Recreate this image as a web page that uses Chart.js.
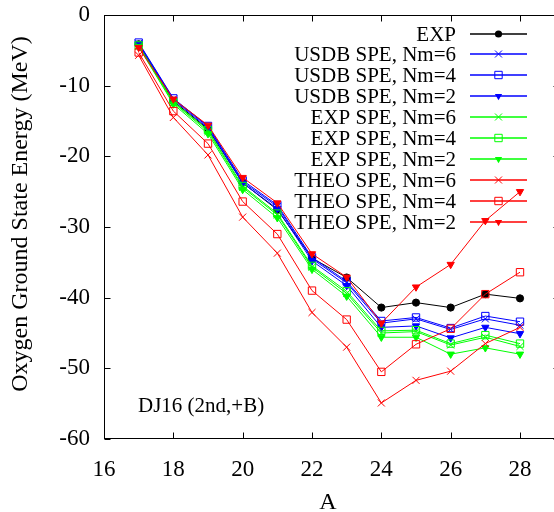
<!DOCTYPE html>
<html>
<head>
<meta charset="utf-8">
<script src="https://cdn.jsdelivr.net/npm/chart.js@4.4.0/dist/chart.umd.min.js"></script>
<style>
  html, body { margin: 0; padding: 0; background: #fff; overflow: hidden; }
  canvas { display: block; }
</style>
</head>
<body>
<canvas id="myChart" width="566" height="512"></canvas>
<script>
// mass number A of the oxygen isotopes
var massNumbers = [17, 18, 19, 20, 21, 22, 23, 24, 25, 26, 27, 28];

// ground state energies (MeV)
var expEnergy = [-4.14, -12.19, -16.14, -23.75, -27.56, -34.41, -37.15, -41.4, -40.7, -41.4, -39.5, -40.1];
var usdbNm6 = [-4.0, -11.9, -15.8, -23.6, -27.1, -34.5, -37.9, -43.6, -43.0, -44.5, -43.0, -43.9];
var usdbNm4 = [-3.9, -11.8, -15.7, -23.4, -26.9, -34.3, -37.7, -43.3, -42.8, -44.3, -42.6, -43.4];
var usdbNm2 = [-4.1, -12.0, -16.0, -23.8, -27.4, -34.8, -38.3, -44.2, -44.0, -45.7, -44.2, -45.1];
var expNm6 = [-4.4, -12.4, -16.5, -24.4, -28.3, -35.7, -39.4, -45.0, -44.8, -46.7, -45.6, -46.9];
var expNm4 = [-4.3, -12.3, -16.3, -24.2, -28.1, -35.5, -39.1, -44.7, -44.6, -46.5, -45.3, -46.5];
var expNm2 = [-4.5, -12.6, -16.8, -24.7, -28.7, -36.0, -39.8, -45.6, -45.6, -48.0, -47.1, -48.0];
var theoNm6 = [-5.7, -14.5, -19.8, -28.6, -33.7, -42.1, -47.0, -54.9, -51.7, -50.4, -46.5, -44.2];
var theoNm4 = [-5.3, -13.6, -18.2, -26.4, -31.0, -39.0, -43.1, -50.5, -46.6, -44.4, -39.5, -36.4];
var theoNm2 = [-4.6, -11.9, -15.6, -23.0, -26.6, -33.8, -37.1, -43.6, -38.5, -35.3, -29.1, -25.0];

var xTicks = [16, 18, 20, 22, 24, 26, 28];
var yTicks = [0, -10, -20, -30, -40, -50, -60];

var serif = "'Liberation Serif', 'DejaVu Serif', serif";

function pairs(values) {
  return massNumbers.map(function (a, i) { return { x: a, y: values[i] }; });
}

// one line of the plot; marker is 'circle' | 'x' | 'box' | 'tri'
function series(label, values, color, marker) {
  var ds = {
    label: label,
    data: pairs(values),
    showLine: true,
    borderColor: color,
    borderWidth: 1,
    pointBorderColor: color,
    pointBorderWidth: 1,
    pointBackgroundColor: color,
    pointRadius: 5,
    pointRotation: 0,
    marker: marker
  };
  if (marker === 'circle') { ds.pointStyle = 'circle'; ds.pointRadius = 3.6; }
  if (marker === 'x') { ds.pointStyle = 'crossRot'; ds.pointRadius = 5; }
  if (marker === 'box') { ds.pointStyle = 'rect'; ds.pointRadius = 5.2; ds.pointBackgroundColor = 'rgba(0,0,0,0)'; }
  if (marker === 'tri') { ds.pointStyle = 'triangle'; ds.pointRadius = 4.2; ds.pointRotation = 180; }
  return ds;
}

var datasets = [
  series('EXP', expEnergy, '#000000', 'circle'),
  series('USDB SPE, Nm=6', usdbNm6, '#0000ff', 'x'),
  series('USDB SPE, Nm=4', usdbNm4, '#0000ff', 'box'),
  series('USDB SPE, Nm=2', usdbNm2, '#0000ff', 'tri'),
  series('EXP SPE, Nm=6', expNm6, '#00ff00', 'x'),
  series('EXP SPE, Nm=4', expNm4, '#00ff00', 'box'),
  series('EXP SPE, Nm=2', expNm2, '#00ff00', 'tri'),
  series('THEO SPE, Nm=6', theoNm6, '#ff0000', 'x'),
  series('THEO SPE, Nm=4', theoNm4, '#ff0000', 'box'),
  series('THEO SPE, Nm=2', theoNm2, '#ff0000', 'tri')
];
// later curves sit on top
datasets.forEach(function (ds, i) { ds.order = datasets.length - i; });

function drawMarker(ctx, kind, x, y, color) {
  ctx.save();
  ctx.strokeStyle = color;
  ctx.fillStyle = color;
  ctx.lineWidth = 1;
  ctx.beginPath();
  if (kind === 'circle') {
    ctx.arc(x, y, 3.6, 0, Math.PI * 2);
    ctx.fill();
  } else if (kind === 'x') {
    ctx.moveTo(x - 3.5, y - 3.5); ctx.lineTo(x + 3.5, y + 3.5);
    ctx.moveTo(x - 3.5, y + 3.5); ctx.lineTo(x + 3.5, y - 3.5);
    ctx.stroke();
  } else if (kind === 'box') {
    ctx.rect(x - 3.7, y - 3.7, 7.4, 7.4);
    ctx.stroke();
  } else if (kind === 'tri') {
    ctx.moveTo(x, y + 4.2);
    ctx.lineTo(x - 3.64, y - 2.1);
    ctx.lineTo(x + 3.64, y - 2.1);
    ctx.closePath();
    ctx.fill();
  }
  ctx.restore();
}

// frame with inward ticks, key, titles and the label in the corner
var gnuplotLook = {
  id: 'gnuplotLook',
  afterDraw: function (chart) {
    var ctx = chart.ctx;
    var a = chart.chartArea;
    var xs = chart.scales.x;
    var ys = chart.scales.y;
    var L = Math.round(a.left) + 0.5, R = Math.round(a.right) - 0.5;
    var T = Math.round(a.top) + 0.5, B = Math.round(a.bottom) - 0.5;

    ctx.save();
    ctx.strokeStyle = '#000';
    ctx.lineWidth = 1;
    ctx.strokeRect(L, T, R - L, B - T);
    ctx.beginPath();
    xTicks.forEach(function (v) {
      var px = Math.round(xs.getPixelForValue(v)) + 0.5;
      ctx.moveTo(px, B); ctx.lineTo(px, B - 6);
      ctx.moveTo(px, T); ctx.lineTo(px, T + 6);
    });
    yTicks.forEach(function (v) {
      var py = Math.round(ys.getPixelForValue(v)) + 0.5;
      ctx.moveTo(L, py); ctx.lineTo(L + 6, py);
      ctx.moveTo(R, py); ctx.lineTo(R - 6, py);
    });
    ctx.stroke();

    // key
    ctx.font = '21px ' + serif;
    ctx.textAlign = 'right';
    ctx.textBaseline = 'middle';
    chart.data.datasets.forEach(function (ds, i) {
      var y = Math.round(33.5 + i * 20.95);
      ctx.fillStyle = '#000';
      ctx.fillText(ds.label, 456, y + 1);
      ctx.strokeStyle = ds.borderColor;
      ctx.lineWidth = 1.5;
      ctx.beginPath();
      ctx.moveTo(470, y);
      ctx.lineTo(527, y);
      ctx.stroke();
      drawMarker(ctx, ds.marker, 498.5, y, ds.borderColor);
    });

    // axis titles
    ctx.fillStyle = '#000';
    ctx.font = '24px ' + serif;
    ctx.textAlign = 'center';
    ctx.textBaseline = 'middle';
    ctx.fillText('A', 328, 503);
    ctx.save();
    ctx.translate(21, 214);
    ctx.rotate(-Math.PI / 2);
    ctx.fillText('Oxygen Ground State Energy (MeV)', 0, 0);
    ctx.restore();

    ctx.font = '21px ' + serif;
    ctx.textAlign = 'left';
    ctx.textBaseline = 'alphabetic';
    ctx.fillText('DJ16 (2nd,+B)', 138, 412);
    ctx.restore();
  }
};

var ctx = document.getElementById('myChart').getContext('2d');
var chart = new Chart(ctx, {
  type: 'scatter',
  data: { datasets: datasets },
  options: {
    responsive: false,
    animation: false,
    events: [],
    layout: { padding: { top: 15, left: 0, right: 0, bottom: 0 } },
    plugins: {
      legend: { display: false },
      tooltip: { enabled: false }
    },
    scales: {
      x: {
        type: 'linear',
        min: 16,
        max: 29.04,
        afterFit: function (s) {
          s.height = 73;
          s.paddingLeft = 0; s.paddingRight = 0;
        },
        afterBuildTicks: function (s) { s.ticks = xTicks.map(function (v) { return { value: v }; }); },
        grid: { display: false, drawTicks: false },
        border: { display: false },
        ticks: {
          color: '#000',
          padding: 17,
          maxRotation: 0,
          includeBounds: false,
          font: { family: serif, size: 23 }
        }
      },
      y: {
        type: 'linear',
        min: -60,
        max: 0,
        afterFit: function (s) {
          s.width = 104;
          s.paddingTop = 0; s.paddingBottom = 0;
        },
        afterBuildTicks: function (s) { s.ticks = yTicks.map(function (v) { return { value: v }; }); },
        grid: { display: false, drawTicks: false },
        border: { display: false },
        ticks: {
          color: '#000',
          padding: 14,
          font: { family: serif, size: 23 }
        }
      }
    }
  },
  plugins: [gnuplotLook]
});

// keep 2 units of A at the same width whatever room the layout left;
// the right edge of the frame then falls past the visible page
var area = chart.chartArea;
var unit = (520 - area.left) / 12;
chart.options.scales.x.max = 16 + (area.right - area.left) / unit;
chart.update();
</script>
</body>
</html>
